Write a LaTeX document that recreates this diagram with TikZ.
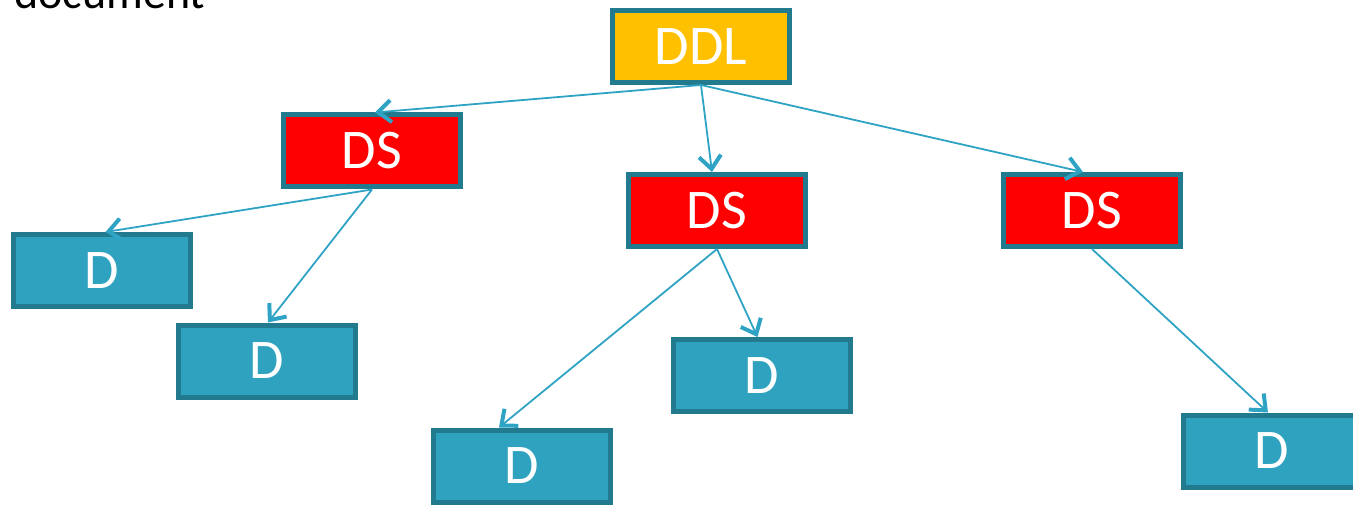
\documentclass[tikz,border=0pt]{standalone}
\usepackage{fontspec}
\setmainfont{Carlito}
\usetikzlibrary{arrows.meta}
\definecolor{edgeteal}{HTML}{227A8E}
\definecolor{aquafill}{HTML}{2EA2BF}
\definecolor{linkblue}{HTML}{2EA3C4}
\definecolor{gold}{HTML}{FFC000}
\tikzset{
  box/.style={draw=edgeteal, line width=5pt, minimum width=177pt, minimum height=72pt,
    inner sep=0pt, text=white, font=\fontsize{56}{60}\selectfont},
  rootbox/.style={box, fill=gold},
  midbox/.style={box, fill=red},
  leafbox/.style={box, fill=aquafill},
  link/.style={draw=linkblue, line width=1.8pt,
    -{Straight Barb[length=13pt, width=22pt, line width=4pt]}},
}
\begin{document}
\begin{tikzpicture}[x=1pt, y=-1pt]
\useasboundingbox (0,0) rectangle (1353,505);
\node[anchor=base west, font=\fontsize{46}{50}\selectfont] (doc) at (11,9) {document};

\node[rootbox] (ddl) at (701,46.5) {DDL};
\node[midbox] (ds1) at (372,151) {DS};
\node[midbox] (ds2) at (717,210.5) {DS};
\node[midbox] (ds3) at (1092,210.5) {DS};
\node[leafbox] (d1) at (101.5,270.5) {D};
\node[leafbox] (d2) at (267,361) {D};
\node[leafbox] (d3) at (522,466) {D};
\node[leafbox] (d4) at (761.5,375.5) {D};
\node[leafbox] (d5) at (1272,451) {D};

\draw[link] (ddl.south) -- ([xshift=3pt]ds1.north);
\draw[link] (ddl.south) -- ([xshift=-5pt]ds2.north);
\draw[link] (ddl.south) -- ([xshift=-9pt]ds3.north);
\draw[link] (ds1.south) -- ([xshift=4pt]d1.north);
\draw[link] (ds1.south) -- ([xshift=1pt]d2.north);
\draw[link] (ds2.south) -- ([xshift=-23pt]d3.north);
\draw[link] (ds2.south) -- ([xshift=-4pt]d4.north);
\draw[link] (ds3.south) -- ([xshift=-4pt]d5.north);
\end{tikzpicture}
\end{document}
